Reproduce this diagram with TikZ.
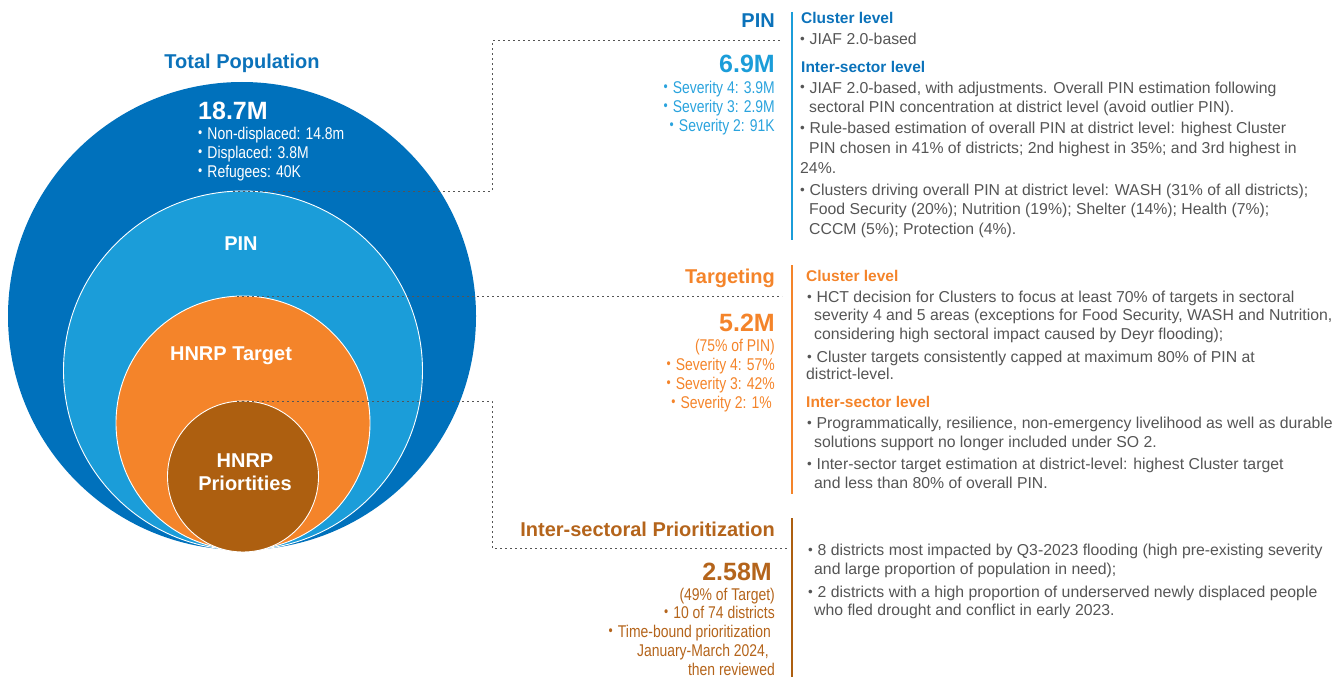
\documentclass[tikz,border=0pt]{standalone}
\usepackage{fontspec}
\usepackage{graphicx}
\setmainfont{Liberation Sans}
\newfontfamily\cond[FakeStretch=0.82]{Liberation Sans}
\definecolor{dblue}{HTML}{0071BC}
\definecolor{lblue}{HTML}{1B9DD9}
\definecolor{tblue}{HTML}{0B72BA}
\definecolor{sblue}{HTML}{2AA3DD}
\definecolor{orng}{HTML}{F4842A}
\definecolor{brwn}{HTML}{AD5F10}
\definecolor{tbrwn}{HTML}{B4641B}
\definecolor{txt}{HTML}{555555}
\definecolor{guidec}{HTML}{555555}
\newcommand\bul{\raisebox{0.12ex}{\scalebox{0.85}{•}}\hspace{0.3em}}
\begin{document}
\begin{tikzpicture}[x=1pt,y=-1pt,
  ring/.style={circle, inner sep=0pt, draw=white, line width=0.9pt},
  inlabel/.style={inner sep=0pt, text=white, font=\bfseries\fontsize{20}{23}\selectfont, anchor=base},
  body/.style={anchor=base west, inner sep=0pt, text=txt, font=\fontsize{15.8}{18}\selectfont},
  chead/.style={anchor=base west, inner sep=0pt, font=\bfseries\fontsize{15.5}{18}\selectfont},
  ltxt/.style={anchor=base east, inner sep=0pt, font=\cond\fontsize{17}{20}\selectfont},
  ctxt/.style={anchor=base west, inner sep=0pt, text=white, font=\cond\fontsize{17}{20}\selectfont},
  big/.style={anchor=base east, inner sep=0pt, font=\bfseries\fontsize{25}{30}\selectfont},
  ttl/.style={anchor=base east, inner sep=0pt, font=\bfseries\fontsize{20}{24}\selectfont},
  guide/.style={draw=guidec, line width=1pt, dash pattern=on 2pt off 3pt},
  bar/.style={line width=2.6pt}
]
\useasboundingbox (0,0) rectangle (1339,677);

% circles
\node[circle, inner sep=0pt, fill=dblue, minimum size=468pt] (outer) at (242,316) {};
\node[ring, fill=lblue, minimum size=359pt] (pinc) at (243,370.5) {};
\node[ring, fill=orng, minimum size=254pt] (tgtc) at (243,423) {};
\node[ring, fill=brwn, minimum size=151pt] (prc) at (243,476.5) {};

% circle labels
\node[anchor=base, inner sep=0pt, text=tblue, font=\bfseries\fontsize{20}{24}\selectfont] (totttl) at (242,69) {Total Population};
\node[inner sep=0pt, text=white, font=\bfseries\fontsize{25}{30}\selectfont, anchor=base west] (totnum) at (198,119) {18.7M};
\node[ctxt] (tot1) at (198,139) {\bul Non-displaced: 14.8m};
\node[ctxt] (tot2) at (198,158) {\bul Displaced: 3.8M};
\node[ctxt] (tot3) at (198,177) {\bul Refugees: 40K};
\node[inlabel] (pinlbl) at (241,250) {PIN};
\node[inlabel] (tgtlbl) at (231,360) {HNRP Target};
\node[inlabel] (prl1) at (245,467) {HNRP};
\node[inlabel] (prl2) at (245,490) {Priortities};

% guide lines
\coordinate (g1s) at (233,191);
\coordinate (g1a) at (492,191);
\coordinate (g1b) at (492,41);
\coordinate (g1c) at (782,41);
\draw[guide] (g1s) -- (g1a) -- (g1b) -- (g1c);
\coordinate (g2s) at (237,296);
\coordinate (g2) at (782,296);
\draw[guide] (g2s) -- (g2);
\coordinate (g3s) at (237,401);
\coordinate (g3a) at (492,401);
\coordinate (g3b) at (492,548);
\coordinate (g3c) at (788,548);
\draw[guide] (g3s) -- (g3a) -- (g3b) -- (g3c);

% vertical bars
\coordinate (b1t) at (792,12); \coordinate (b1b) at (792,240);
\coordinate (b2t) at (792,265); \coordinate (b2b) at (792,494);
\coordinate (b3t) at (792,518); \coordinate (b3b) at (792,677);
\draw[bar, draw=lblue] (b1t) -- (b1b);
\draw[bar, draw=orng] (b2t) -- (b2b);
\draw[bar, draw=brwn] (b3t) -- (b3b);

% PIN left
\node[ttl, text=tblue] (pinttl) at (775,28) {PIN};
\node[big, text=lblue] (pinnum) at (775,73) {6.9M};
\node[ltxt, text=sblue] (pins4) at (775,93) {\bul Severity 4: 3.9M};
\node[ltxt, text=sblue] (pins3) at (775,112) {\bul Severity 3: 2.9M};
\node[ltxt, text=sblue] (pins2) at (775,131) {\bul Severity 2: 91K};

% PIN right
\node[chead, text=tblue] (pinc1h) at (801,24) {Cluster level};
\node[body] (pinc1a) at (800,44.5) {\bul JIAF 2.0-based};
\node[chead, text=tblue] (pinc2h) at (801,72.5) {Inter-sector level};
\node[body] (pinb1) at (800,93) {\bul JIAF 2.0-based, with adjustments. Overall PIN estimation following};
\node[body] (pinb1b) at (809,113) {sectoral PIN concentration at district level (avoid outlier PIN).};
\node[body] (pinb2) at (800,133.5) {\bul Rule-based estimation of overall PIN at district level: highest Cluster};
\node[body] (pinb2b) at (809,153.5) {PIN chosen in 41\% of districts; 2nd highest in 35\%; and 3rd highest in};
\node[body] (pinb2c) at (800,173.5) {24\%.};
\node[body] (pinb3) at (800,195.5) {\bul Clusters driving overall PIN at district level: WASH (31\% of all districts);};
\node[body] (pinb3b) at (809,214.5) {Food Security (20\%); Nutrition (19\%); Shelter (14\%); Health (7\%);};
\node[body] (pinb3c) at (809,234.5) {CCCM (5\%); Protection (4\%).};

% Targeting left
\node[ttl, text=orng] (tgtttl) at (775,283) {Targeting};
\node[big, text=orng] (tgtnum) at (775,331) {5.2M};
\node[ltxt, text=orng] (tgtp) at (775,351) {(75\% of PIN)};
\node[ltxt, text=orng] (tgts4) at (775,370) {\bul Severity 4: 57\%};
\node[ltxt, text=orng] (tgts3) at (775,389) {\bul Severity 3: 42\%};
\node[ltxt, text=orng] (tgts2) at (772,408) {\bul Severity 2: 1\%};

% Targeting right
\node[chead, text=orng] (tgtc1h) at (806,281) {Cluster level};
\node[body] (tgta1) at (807,302) {\bul HCT decision for Clusters to focus at least 70\% of targets in sectoral};
\node[body] (tgta1b) at (814,320.5) {severity 4 and 5 areas (exceptions for Food Security, WASH and Nutrition,};
\node[body] (tgta1c) at (814,339.5) {considering high sectoral impact caused by Deyr flooding);};
\node[body] (tgta2) at (807,362) {\bul Cluster targets consistently capped at maximum 80\% of PIN at};
\node[body] (tgta2b) at (806,379.5) {district-level.};
\node[chead, text=orng] (tgtc2h) at (806,407) {Inter-sector level};
\node[body] (tgtb1) at (807,428.5) {\bul Programmatically, resilience, non-emergency livelihood as well as durable};
\node[body] (tgtb1b) at (814,447) {solutions support no longer included under SO 2.};
\node[body] (tgtb2) at (807,469.5) {\bul Inter-sector target estimation at district-level: highest Cluster target};
\node[body] (tgtb2b) at (814,488.5) {and less than 80\% of overall PIN.};

% Prioritization left
\node[ttl, text=tbrwn] (prttl) at (775,536) {Inter-sectoral Prioritization};
\node[big, text=tbrwn] (prnum) at (772,580) {2.58M};
\node[ltxt, text=tbrwn] (prp) at (775,600) {(49\% of Target)};
\node[ltxt, text=tbrwn] (prd) at (775,618) {\bul 10 of 74 districts};
\node[ltxt, text=tbrwn] (prt1) at (771,637) {\bul Time-bound prioritization};
\node[ltxt, text=tbrwn] (prt2) at (769,656) {January-March 2024,};
\node[ltxt, text=tbrwn] (prt3) at (775,675) {then reviewed};

% Prioritization right
\node[body] (pra1) at (808,555.5) {\bul 8 districts most impacted by Q3-2023 flooding (high pre-existing severity};
\node[body] (pra1b) at (814,574.5) {and large proportion of population in need);};
\node[body] (pra2) at (808,597.5) {\bul 2 districts with a high proportion of underserved newly displaced people};
\node[body] (pra2b) at (814,615.5) {who fled drought and conflict in early 2023.};
\end{tikzpicture}
\end{document}
